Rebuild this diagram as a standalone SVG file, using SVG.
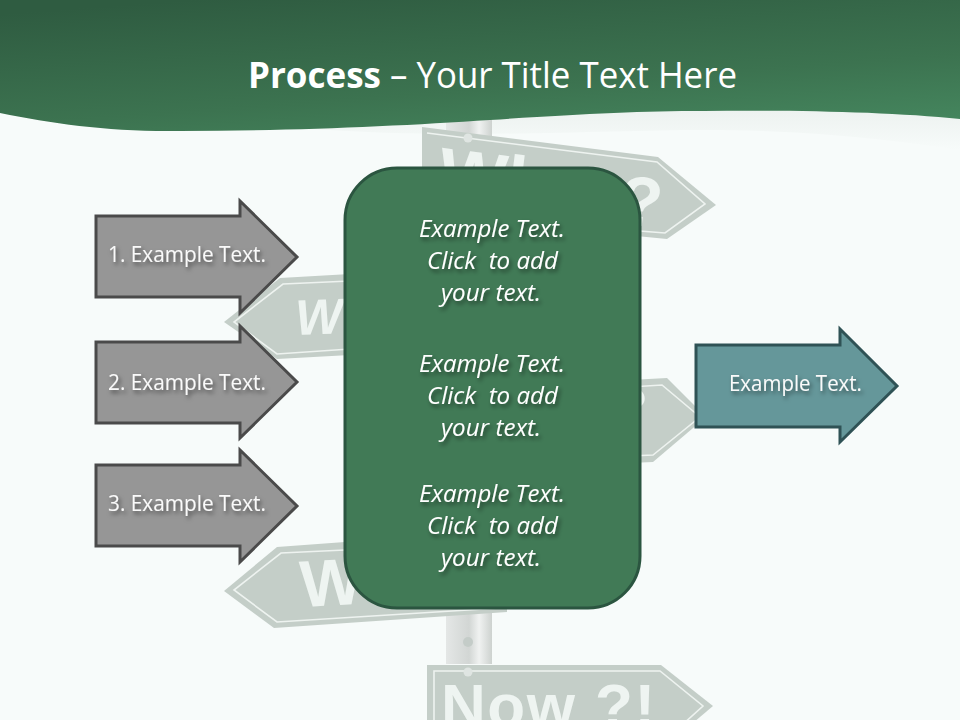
<svg xmlns="http://www.w3.org/2000/svg" width="960" height="720" viewBox="0 0 960 720">
<style>
.arrow{fill:#969696;stroke:#4a4a4a;stroke-width:3;stroke-linejoin:miter}
.lbl{font-family:"Open Sans","Liberation Sans",sans-serif;font-size:21px;fill:#fafafa;filter:url(#ts)}
.pt{font-family:"Open Sans","Liberation Sans",sans-serif;font-size:24px;font-style:italic;fill:#fff;filter:url(#ts)}
.sign{fill:#c4ceC8}
.inner{fill:none;stroke:#eef3f0;stroke-width:1.6}
.sw{font-family:"Liberation Sans",sans-serif;font-weight:bold;fill:#eef4f1}
.title{font-family:"Open Sans","Liberation Sans",sans-serif;font-size:36px;fill:#fff}
</style>
<defs>
<linearGradient id="hdr" x1="0.2" y1="0" x2="0.85" y2="1.2"><stop offset="0" stop-color="#2f5c41"/><stop offset="0.55" stop-color="#3c7350"/><stop offset="1" stop-color="#488d63"/></linearGradient>
<linearGradient id="pole" x1="0" y1="0" x2="1" y2="0"><stop offset="0" stop-color="#e4e7e6"/><stop offset="0.5" stop-color="#d2d6d4"/><stop offset="0.72" stop-color="#f0f2f1"/><stop offset="1" stop-color="#cdd2cf"/></linearGradient>
<linearGradient id="shade" x1="0" y1="0" x2="0" y2="1"><stop offset="0" stop-color="#e8eeeb"/><stop offset="1" stop-color="#f7fbfa"/></linearGradient>
<filter id="ts" x="-20%" y="-40%" width="140%" height="190%"><feDropShadow dx="2" dy="3" stdDeviation="2" flood-color="#000" flood-opacity="0.5"/></filter>
</defs>
<rect width="960" height="720" fill="#f7fbfa"/>
<path d="M300,128 C400,122 600,108 704,108 C800,108 890,112 960,119 L960,150 C860,135 780,130 704,130 C600,130 450,140 300,128 Z" fill="url(#shade)" opacity="0.7"/>

<g id="signpost">
<rect x="446" y="112" width="46" height="30" fill="url(#pole)"/>
<rect x="446" y="600" width="46" height="64" fill="url(#pole)"/>
<circle cx="468" cy="642" r="5" fill="#c4ccc8"/>
<polygon class="sign" points="422,127 658,157 716,205 667,239 422,215"/>
<polyline class="inner" points="427,133 657,162 705,204 665,233 500,220"/>
<circle cx="468" cy="138" r="4.5" fill="#dfe5e2"/>
<text class="sw" transform="translate(436,197) rotate(7)" font-size="72">Wh</text>
<text class="sw" transform="translate(617,223) rotate(7)" font-size="70">?</text>
<polygon class="sign" points="224,322 280,278 350,274 350,355 277,359"/>
<polyline class="inner" points="350,281 283,284 234,322 277,354 350,349"/>
<text class="sw" transform="translate(296,335) rotate(-2)" font-size="50" font-style="italic">W</text>
<polygon class="sign" points="630,380 667,378 706,417 653,462 630,463"/>
<polyline class="inner" points="630,387 662,385 700,417 653,455 630,456"/>
<text class="sw" x="617" y="424" font-size="50">?</text>
<polygon class="sign" points="224,591 277,547 345,542 507,560 507,612 274,628"/>
<polyline class="inner" points="345,550 281,553 234,590 277,622 500,608"/>
<text class="sw" transform="translate(301,607) rotate(-3)" font-size="66">W</text>
<polygon class="sign" points="427,665 661,665 713,706 661,750 427,750"/>
<polyline class="inner" points="434,750 434,671 660,671 703,706 660,745"/>
<circle cx="468" cy="672" r="4.5" fill="#dfe5e2"/>
<text class="sw" x="441" y="727" font-size="62" letter-spacing="1.5">Now ?!</text>
</g>

<g id="header">
<path d="M0,0 H960 V119 C890,112 800,110 704,111 C640,111 580,114 490,120 C400,126 290,131 180,131 C110,132 55,124 0,113 Z" fill="url(#hdr)"/>
<text class="title" x="248" y="88" font-weight="bold" textLength="133" lengthAdjust="spacingAndGlyphs">Process</text>
<text class="title" x="390" y="88" textLength="347" lengthAdjust="spacingAndGlyphs">– Your Title Text Here</text>
</g>

<g id="input-1">
<polygon class="arrow" points="96,216 240,216 240,201 297,257 240,313 240,297 96,297"/>
<text class="lbl" x="108" y="262" textLength="158" lengthAdjust="spacingAndGlyphs">1. Example Text.</text>
</g>
<g id="input-2">
<polygon class="arrow" points="96,342 240,342 240,326 297,382 240,438 240,423 96,423"/>
<text class="lbl" x="108" y="390" textLength="158" lengthAdjust="spacingAndGlyphs">2. Example Text.</text>
</g>
<g id="input-3">
<polygon class="arrow" points="96,465 240,465 240,450 297,506 240,562 240,546 96,546"/>
<text class="lbl" x="108" y="511" textLength="158" lengthAdjust="spacingAndGlyphs">3. Example Text.</text>
</g>

<g id="panel">
<rect x="345" y="168" width="295" height="440" rx="52" ry="52" fill="#417a56" stroke="#2b5540" stroke-width="3"/>
<text class="pt" x="419" y="237" textLength="146" lengthAdjust="spacingAndGlyphs">Example Text.</text>
<text class="pt" x="427" y="269" textLength="131" lengthAdjust="spacingAndGlyphs" xml:space="preserve">Click  to add</text>
<text class="pt" x="441" y="301" textLength="100" lengthAdjust="spacingAndGlyphs">your text.</text>
<text class="pt" x="419" y="372" textLength="146" lengthAdjust="spacingAndGlyphs">Example Text.</text>
<text class="pt" x="427" y="404" textLength="131" lengthAdjust="spacingAndGlyphs" xml:space="preserve">Click  to add</text>
<text class="pt" x="441" y="436" textLength="100" lengthAdjust="spacingAndGlyphs">your text.</text>
<text class="pt" x="419" y="502" textLength="146" lengthAdjust="spacingAndGlyphs">Example Text.</text>
<text class="pt" x="427" y="534" textLength="131" lengthAdjust="spacingAndGlyphs" xml:space="preserve">Click  to add</text>
<text class="pt" x="441" y="566" textLength="100" lengthAdjust="spacingAndGlyphs">your text.</text>
</g>

<g id="output">
<polygon points="696,345 840,345 840,329 897,386 840,442 840,427 696,427" fill="#65979a" stroke="#2f5255" stroke-width="3"/>
<text class="lbl" x="729" y="391" textLength="133" lengthAdjust="spacingAndGlyphs">Example Text.</text>
</g>
</svg>
